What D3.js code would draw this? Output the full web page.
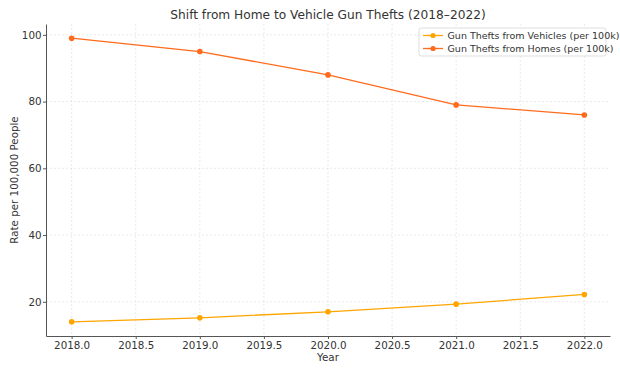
<!DOCTYPE html>
<html>
<head>
<meta charset="utf-8">
<script src="https://cdn.jsdelivr.net/npm/d3@7"></script>
<style>
  body { margin: 0; background: #fff; }
  text { font-family: "DejaVu Sans", sans-serif; }
</style>
</head>
<body>
<div id="chart"></div>
<script>
// data
const years = [2018, 2019, 2020, 2021, 2022];
const vehicleThefts = [14.0, 15.2, 17.0, 19.3, 22.2];
const homeThefts = [99.0, 95.0, 88.0, 79.0, 76.0];
const seriesNames = ["Gun Thefts from Vehicles (per 100k)", "Gun Thefts from Homes (per 100k)"];
const seriesColors = ["#ffa500", "#ff6a1c"];
const xTicks = [2018, 2018.5, 2019, 2019.5, 2020, 2020.5, 2021, 2021.5, 2022];
const yTicks = [20, 40, 60, 80, 100];

const W = 620, H = 372;
const m = {left: 46, right: 10, top: 24, bottom: 36};

const svg = d3.select("#chart").append("svg")
    .attr("width", W)
    .attr("height", H);

// matplotlib style 5% padding
const xPad = (d3.max(years) - d3.min(years)) * 0.05;
const allVals = vehicleThefts.concat(homeThefts);
const yPad = (d3.max(allVals) - d3.min(allVals)) * 0.05;

const x = d3.scaleLinear()
    .domain([d3.min(years) - xPad, d3.max(years) + xPad])
    .range([m.left, W - m.right]);
const y = d3.scaleLinear()
    .domain([d3.min(allVals) - yPad, d3.max(allVals) + yPad])
    .range([H - m.bottom, m.top]);

// grid
svg.append("g").selectAll("line")
    .data(xTicks)
    .join("line")
    .attr("x1", d => x(d)).attr("x2", d => x(d))
    .attr("y1", m.top).attr("y2", H - m.bottom)
    .attr("stroke", "#dcdcdc")
    .attr("stroke-width", 0.6)
    .attr("stroke-dasharray", "2,2");
svg.append("g").selectAll("line")
    .data(yTicks)
    .join("line")
    .attr("x1", m.left).attr("x2", W - m.right)
    .attr("y1", d => y(d)).attr("y2", d => y(d))
    .attr("stroke", "#dcdcdc")
    .attr("stroke-width", 0.6)
    .attr("stroke-dasharray", "2,2");

// axes
const xAxis = svg.append("g")
    .attr("transform", `translate(0,${H - m.bottom})`)
    .call(d3.axisBottom(x).tickValues(xTicks).tickFormat(d3.format(".1f"))
        .tickSize(3).tickPadding(2.5).tickSizeOuter(0));
const yAxis = svg.append("g")
    .attr("transform", `translate(${m.left},0)`)
    .call(d3.axisLeft(y).tickValues(yTicks).tickFormat(d3.format("d"))
        .tickSize(3).tickPadding(1.5).tickSizeOuter(0));

[xAxis, yAxis].forEach(a => {
  a.select(".domain").attr("stroke", "#555").attr("stroke-width", 1);
  a.selectAll(".tick line").attr("stroke", "#555");
  a.selectAll(".tick text")
      .attr("fill", "#333")
      .style("font-size", "10.3px")
      .style("font-family", "DejaVu Sans, sans-serif");
});

// titles
svg.append("text")
    .text("Shift from Home to Vehicle Gun Thefts (2018\u20132022)")
    .attr("x", (m.left + W - m.right) / 2)
    .attr("y", 19)
    .attr("text-anchor", "middle")
    .attr("fill", "#333")
    .style("font-size", "12.2px");

svg.append("text")
    .text("Year")
    .attr("x", (m.left + W - m.right) / 2)
    .attr("y", 361)
    .attr("text-anchor", "middle")
    .attr("fill", "#333")
    .style("font-size", "10.3px");

svg.append("text")
    .text("Rate per 100,000 People")
    .attr("transform", `translate(18,${(m.top + H - m.bottom) / 2}) rotate(-90)`)
    .attr("text-anchor", "middle")
    .attr("fill", "#333")
    .style("font-size", "10.3px");

// lines
const series = [vehicleThefts, homeThefts];
const line = d3.line().x((d, i) => x(years[i])).y(d => y(d));

series.forEach((vals, s) => {
  svg.append("path")
      .datum(vals)
      .attr("d", line)
      .attr("fill", "none")
      .attr("stroke", seriesColors[s])
      .attr("stroke-width", 1.3);
  svg.append("g").selectAll("circle")
      .data(vals)
      .join("circle")
      .attr("cx", (d, i) => x(years[i]))
      .attr("cy", d => y(d))
      .attr("r", 2.8)
      .attr("fill", seriesColors[s]);
});

// legend
const lg = svg.append("g").attr("transform", "translate(419,28)");
lg.append("rect")
    .attr("width", 187)
    .attr("height", 28)
    .attr("rx", 2.5)
    .attr("fill", "#fff")
    .attr("fill-opacity", 0.85)
    .attr("stroke", "#d5d5d5")
    .attr("stroke-width", 0.8);
seriesNames.forEach((name, i) => {
  const row = lg.append("g").attr("transform", `translate(4,${7.5 + i * 13})`);
  row.append("line")
      .attr("x1", 0).attr("x2", 20)
      .attr("stroke", seriesColors[i])
      .attr("stroke-width", 1.3);
  row.append("circle")
      .attr("cx", 10).attr("r", 2.6)
      .attr("fill", seriesColors[i]);
  row.append("text")
      .text(name)
      .attr("x", 24.5)
      .attr("dy", "0.35em")
      .attr("fill", "#333")
      .style("font-size", "9.5px");
});
</script>
</body>
</html>
